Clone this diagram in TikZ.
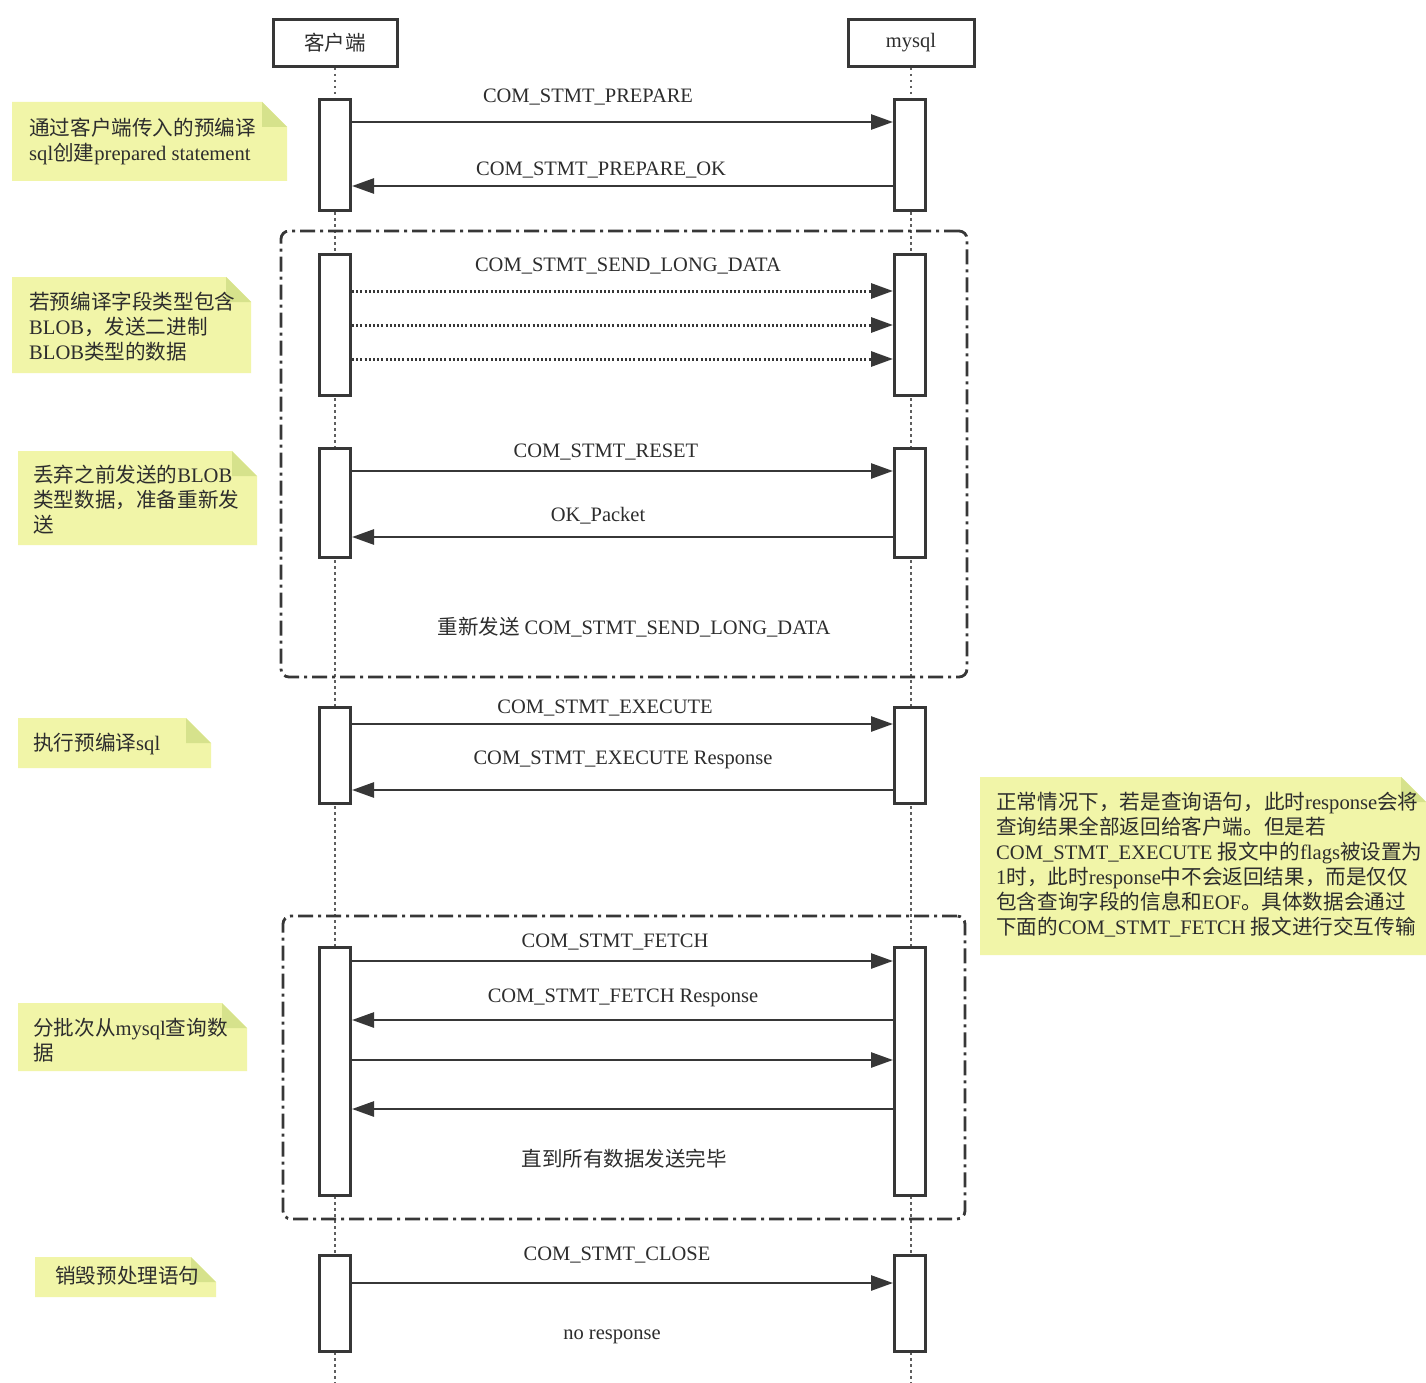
\documentclass[tikz,border=0pt]{standalone}
\usepackage{fontspec}
\setmainfont{Liberation Serif}
\newfontfamily\cjk{Noto Sans CJK SC}
\usetikzlibrary{arrows.meta}
\definecolor{notefill}{RGB}{241,245,168}
\definecolor{notefold}{RGB}{214,226,140}
\definecolor{ink}{RGB}{55,55,55}
\definecolor{txt}{RGB}{45,45,45}
\definecolor{lifec}{RGB}{95,95,95}
\newcommand\zh[1]{{\cjk #1}}
\newcommand\drawnote[4]{%
  \fill[notefill] (#1,#2) -- ({#3-25},#2) -- (#3,{#2+25}) -- (#3,#4) -- (#1,#4) -- cycle;
  \fill[notefold] ({#3-25},#2) -- (#3,{#2+25}) -- ({#3-25},{#2+25}) -- cycle;}
\begin{document}
\begin{tikzpicture}[x=1pt,y=-1pt,
  part/.style={draw=ink, line width=3pt, fill=white, minimum height=47pt, inner sep=0pt, text=txt, font=\fontsize{20.5}{24}\selectfont},
  act/.style={draw=ink, line width=3pt, fill=white, minimum width=31pt, inner sep=0pt},
  life/.style={draw=lifec, line width=2.4pt, dash pattern=on 2.5pt off 3.5pt},
  msg/.style={draw=ink, line width=2.6pt, -{Triangle[length=22pt,width=15pt]}},
  dmsg/.style={msg, line width=3pt, dash pattern=on 2pt off 2.2pt},
  lbl/.style={text=txt, inner sep=0pt, font=\fontsize{20.5}{24}\selectfont},
  frame/.style={draw=ink, line width=2.8pt, rounded corners=8pt, dash pattern=on 15pt off 5pt on 3pt off 5pt},
  notetxt/.style={anchor=west, align=left, text=txt, inner sep=0pt, font=\fontsize{20.6}{25}\selectfont}]
\useasboundingbox (0,0) rectangle (1426,1383);
\fill[white] (0,0) rectangle (1426,1383);

% participants
\node[part, minimum width=124pt] (pc) at (335,43) {\zh{客户端}};
\node[part, minimum width=126pt] (ps) at (911,43) {mysql};
\coordinate (ec) at (335,1383);
\coordinate (es) at (911,1383);
\draw[life] (pc.south) -- (ec);
\draw[life] (ps.south) -- (es);

% frames
\node[frame, minimum width=686pt, minimum height=446pt] (f1) at (624,454) {};
\node[frame, minimum width=682pt, minimum height=303pt] (f2) at (624,1067.5) {};

% activation boxes
\node[act, minimum height=110pt] (c1) at (335,155) {};
\node[act, minimum height=110pt] (s1) at (910,155) {};
\node[act, minimum height=141pt] (c2) at (335,324.5) {};
\node[act, minimum height=141pt] (s2) at (910,324.5) {};
\node[act, minimum height=109pt] (c3) at (335,502.5) {};
\node[act, minimum height=109pt] (s3) at (910,502.5) {};
\node[act, minimum height=96pt] (c4) at (335,755) {};
\node[act, minimum height=96pt] (s4) at (910,755) {};
\node[act, minimum height=248pt] (c5) at (335,1071) {};
\node[act, minimum height=248pt] (s5) at (910,1071) {};
\node[act, minimum height=96pt] (c6) at (335,1303) {};
\node[act, minimum height=96pt] (s6) at (910,1303) {};

% messages
\draw[msg] (c1.east |- 0,122) -- (s1.west |- 0,122);
\draw[msg] (s1.west |- 0,186) -- (c1.east |- 0,186);
\draw[dmsg] (c2.east |- 0,291) -- (s2.west |- 0,291);
\draw[dmsg] (c2.east |- 0,325) -- (s2.west |- 0,325);
\draw[dmsg] (c2.east |- 0,359) -- (s2.west |- 0,359);
\draw[msg] (c3.east |- 0,471) -- (s3.west |- 0,471);
\draw[msg] (s3.west |- 0,537) -- (c3.east |- 0,537);
\draw[msg] (c4.east |- 0,724) -- (s4.west |- 0,724);
\draw[msg] (s4.west |- 0,790) -- (c4.east |- 0,790);
\draw[msg] (c5.east |- 0,961) -- (s5.west |- 0,961);
\draw[msg] (s5.west |- 0,1020) -- (c5.east |- 0,1020);
\draw[msg] (c5.east |- 0,1060) -- (s5.west |- 0,1060);
\draw[msg] (s5.west |- 0,1109) -- (c5.east |- 0,1109);
\draw[msg] (c6.east |- 0,1283) -- (s6.west |- 0,1283);

% labels
\node[lbl] (l1) at (588,97) {COM\_STMT\_PREPARE};
\node[lbl] (l2) at (601,170) {COM\_STMT\_PREPARE\_OK};
\node[lbl] (l3) at (628,266) {COM\_STMT\_SEND\_LONG\_DATA};
\node[lbl] (l4) at (606,452) {COM\_STMT\_RESET};
\node[lbl] (l5) at (598,516) {OK\_Packet};
\node[lbl] (l6) at (634,627) {\zh{重新发送} COM\_STMT\_SEND\_LONG\_DATA};
\node[lbl] (l7) at (605,708) {COM\_STMT\_EXECUTE};
\node[lbl] (l8) at (623,760) {COM\_STMT\_EXECUTE Response};
\node[lbl] (l9) at (615,942) {COM\_STMT\_FETCH};
\node[lbl] (l10) at (623,998) {COM\_STMT\_FETCH Response};
\node[lbl] (l11) at (624,1159) {\zh{直到所有数据发送完毕}};
\node[lbl] (l12) at (617,1255) {COM\_STMT\_CLOSE};
\node[lbl] (l13) at (612,1337) {no response};

% notes
\drawnote{12}{102}{287}{181}
\node[notetxt] (n1) at (29,141.5) {\zh{通过客户端传入的预编译}\\sql\zh{创建}prepared statement};
\drawnote{12}{277}{251}{373}
\node[notetxt] (n2) at (29,326.5) {\zh{若预编译字段类型包含}\\BLOB\zh{，发送二进制}\\BLOB\zh{类型的数据}};
\drawnote{18}{451}{257}{545}
\node[notetxt] (n3) at (33,500) {\zh{丢弃之前发送的}BLOB\\\zh{类型数据，准备重新发}\\\zh{送}};
\drawnote{18}{718}{211}{768}
\node[notetxt] (n4) at (33,744) {\zh{执行预编译}sql};
\drawnote{980}{777}{1426}{955}
\node[notetxt] (n5) at (996,865) {\zh{正常情况下，若是查询语句，此时}response\zh{会将}\\\zh{查询结果全部返回给客户端。但是若}\\COM\_STMT\_EXECUTE \zh{报文中的}flags\zh{被设置为}\\1\zh{时，此时}response\zh{中不会返回结果，而是仅仅}\\\zh{包含查询字段的信息和}EOF\zh{。具体数据会通过}\\\zh{下面的}COM\_STMT\_FETCH \zh{报文进行交互传输}};
\drawnote{18}{1003}{247}{1071}
\node[notetxt] (n6) at (33,1040.5) {\zh{分批次从}mysql\zh{查询数}\\\zh{据}};
\drawnote{35}{1257}{216}{1297}
\node[notetxt] (n7) at (55,1276) {\zh{销毁预处理语句}};
\end{tikzpicture}
\end{document}
